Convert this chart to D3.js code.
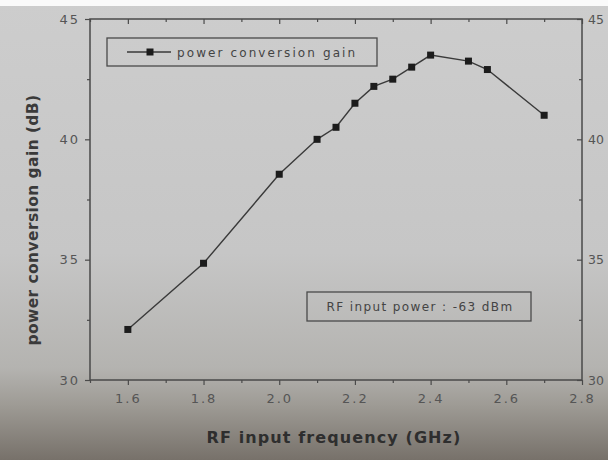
<!DOCTYPE html>
<html><head><meta charset="utf-8">
<script src="https://cdn.jsdelivr.net/npm/d3@7"></script>
<style>body{margin:0;background:#fff}svg{display:block}</style>
</head><body>
<svg id="c" width="608" height="460"></svg>
<script>
const freq = [1.6, 1.8, 2.0, 2.1, 2.15, 2.2, 2.25, 2.3, 2.35, 2.4, 2.5, 2.55, 2.7];
const gain = [32.1, 34.85, 38.55, 40.0, 40.5, 41.5, 42.2, 42.5, 43.0, 43.5, 43.25, 42.9, 41.0];
const xTicks = [1.6, 1.8, 2.0, 2.2, 2.4, 2.6, 2.8];
const xMinor = [1.5, 1.7, 1.9, 2.1, 2.3, 2.5, 2.7];
const yTicks = [30, 35, 40, 45];
const yMinor = [32.5, 37.5, 42.5];
const seriesName = "power conversion gain";
const note = "RF input power : -63 dBm";
const xTitle = "RF input frequency (GHz)";
const yTitle = "power conversion gain (dB)";

const svg = d3.select("#c");
const defs = svg.append("defs");
const g = defs.append("linearGradient").attr("id","bg").attr("x1",0).attr("y1",0).attr("x2",0).attr("y2",1);
[[0,"#cdcdcd"],[0.55,"#c6c6c6"],[0.8,"#b4b3b0"],[0.88,"#9e9b95"],[1,"#77716a"]].forEach(s=>g.append("stop").attr("offset",s[0]).attr("stop-color",s[1]));
svg.append("rect").attr("width",608).attr("height",460).attr("fill","url(#bg)");
svg.append("rect").attr("width",608).attr("height",6).attr("fill","#fafafa");

const L=90,R=582,T=19,B=380;
const x = d3.scaleLinear().domain([1.5,2.8]).range([L,R]);
const y = d3.scaleLinear().domain([30,45]).range([B,T]);
const axC="#4a4a4a", txC="#555";

svg.append("rect").attr("x",L).attr("y",T).attr("width",R-L).attr("height",B-T)
  .attr("fill","none").attr("stroke",axC).attr("stroke-width",1.5);

const bx = svg.append("g").attr("transform",`translate(0,${B})`)
  .call(d3.axisBottom(x).tickValues(xTicks).tickFormat(d3.format(".1f")).tickSize(5).tickPadding(9));
const bxm = svg.append("g").attr("transform",`translate(0,${B})`)
  .call(d3.axisBottom(x).tickValues(xMinor).tickFormat("").tickSize(3));
const tx = svg.append("g").attr("transform",`translate(0,${T})`)
  .call(d3.axisBottom(x).tickValues(xTicks).tickFormat("").tickSize(5));
const txm = svg.append("g").attr("transform",`translate(0,${T})`)
  .call(d3.axisBottom(x).tickValues(xMinor).tickFormat("").tickSize(3));
const ly = svg.append("g").attr("transform",`translate(${L},0)`)
  .call(d3.axisLeft(y).tickValues(yTicks).tickFormat(d3.format("d")).tickSize(5).tickPadding(5));
const lym = svg.append("g").attr("transform",`translate(${L},0)`)
  .call(d3.axisLeft(y).tickValues(yMinor).tickFormat("").tickSize(3));
const ry = svg.append("g").attr("transform",`translate(${R},0)`)
  .call(d3.axisLeft(y).tickValues(yTicks).tickFormat("").tickSize(5));
const rym = svg.append("g").attr("transform",`translate(${R},0)`)
  .call(d3.axisLeft(y).tickValues(yMinor).tickFormat("").tickSize(3));
const ryl = svg.append("g").attr("transform",`translate(${R},0)`)
  .call(d3.axisRight(y).tickValues(yTicks).tickFormat(d3.format("d")).tickSize(0).tickPadding(6));
[bx,bxm,tx,txm,ly,lym,ry,rym,ryl].forEach(a=>{
  a.select(".domain").remove();
  a.selectAll("line").attr("stroke",axC).attr("stroke-width",1.2);
  a.selectAll("text").attr("fill",txC).attr("font-family","DejaVu Sans, sans-serif")
   .attr("font-size",13).attr("letter-spacing","2px");
});
ryl.selectAll("text").attr("letter-spacing","0px").attr("font-size",12.5);

const line = d3.line().x((d,i)=>x(freq[i])).y(d=>y(d));
svg.append("path").datum(gain).attr("d",line).attr("fill","none")
  .attr("stroke","#3a3a3a").attr("stroke-width",1.4);
svg.selectAll("rect.m").data(gain).enter().append("rect").attr("class","m")
  .attr("x",(d,i)=>x(freq[i])-3.5).attr("y",d=>y(d)-3.5).attr("width",7).attr("height",7)
  .attr("fill","#1c1c1c");

svg.append("rect").attr("x",107).attr("y",38).attr("width",270).attr("height",28)
  .attr("fill","none").attr("stroke",axC).attr("stroke-width",1.3);
svg.append("line").attr("x1",127).attr("x2",171).attr("y1",52).attr("y2",52).attr("stroke","#3a3a3a").attr("stroke-width",1.4);
svg.append("rect").attr("x",146.5).attr("y",48.5).attr("width",7).attr("height",7).attr("fill","#1c1c1c");
svg.append("text").attr("x",177).attr("y",56.5).text(seriesName)
  .attr("fill","#444").attr("font-family","DejaVu Sans, sans-serif").attr("font-size",12).attr("letter-spacing","2.1px");

svg.append("rect").attr("x",307).attr("y",292).attr("width",224).attr("height",29)
  .attr("fill","none").attr("stroke",axC).attr("stroke-width",1.3);
svg.append("text").attr("x",420).attr("y",311).attr("text-anchor","middle").text(note)
  .attr("fill","#444").attr("font-family","DejaVu Sans, sans-serif").attr("font-size",12).attr("letter-spacing","1.4px");

svg.append("text").attr("x",334).attr("y",443).attr("text-anchor","middle").text(xTitle)
  .attr("fill","#2e2e2e").attr("font-family","DejaVu Sans, sans-serif").attr("font-weight","bold").attr("font-size",16).attr("letter-spacing","1.1px");
svg.append("text").attr("transform","translate(38,220) rotate(-90)").attr("text-anchor","middle").text(yTitle)
  .attr("fill","#3a3a3a").attr("font-family","DejaVu Sans, sans-serif").attr("font-weight","bold").attr("font-size",15.5).attr("letter-spacing","0.4px");
</script>
</body></html>
